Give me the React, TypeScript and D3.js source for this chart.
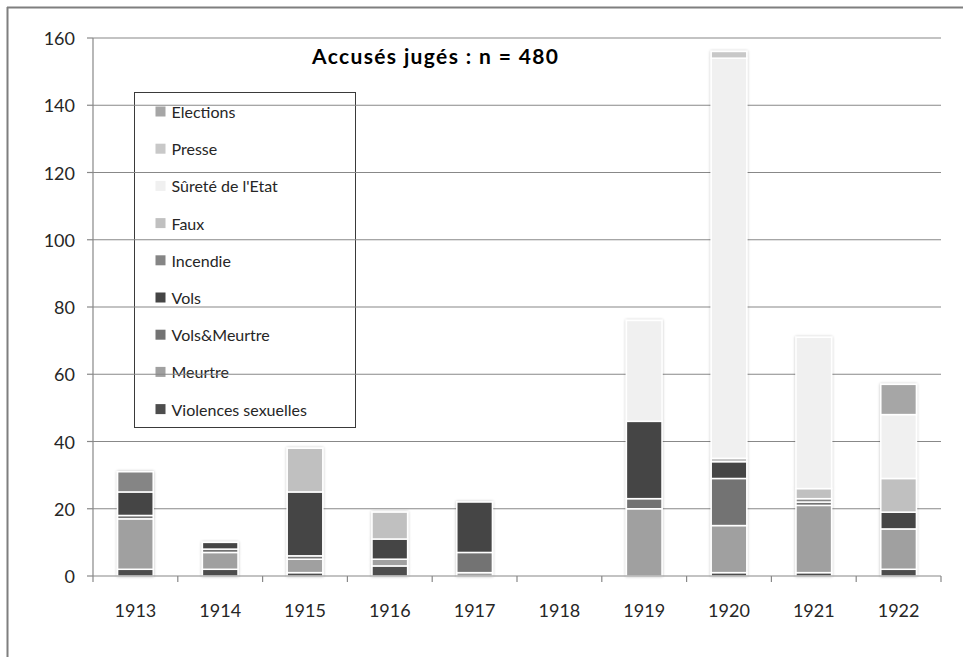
import * as d3 from 'd3';

// categories and series (bottom to top of each stack)
const years = ['1913', '1914', '1915', '1916', '1917', '1918', '1919', '1920', '1921', '1922'];

const violencesSexuelles = [2, 2, 1, 3, 0, 0, 0, 1, 1, 2];
const meurtre = [15, 5, 4, 2, 1, 0, 20, 14, 20, 12];
const volsMeurtre = [1, 1, 1, 0, 6, 0, 3, 14, 1, 0];
const vols = [7, 2, 19, 6, 15, 0, 23, 5, 0, 5];
const incendie = [6, 0, 0, 0, 0, 0, 0, 0, 1, 0];
const faux = [0, 0, 13, 8, 0, 0, 0, 1, 3, 10];
const sureteEtat = [0, 0, 0, 0, 0, 0, 30, 119, 45, 19];
const presse = [0, 0, 0, 0, 0, 0, 0, 2, 0, 0];
const elections = [0, 0, 0, 0, 0, 0, 0, 0, 0, 9];

const seriesNames = [
  'Violences sexuelles', 'Meurtre', 'Vols&Meurtre', 'Vols', 'Incendie',
  'Faux', "Sûreté de l'Etat", 'Presse', 'Elections',
];
const seriesValues = [
  violencesSexuelles, meurtre, volsMeurtre, vols, incendie,
  faux, sureteEtat, presse, elections,
];
const seriesColors = [
  '#4d4d4d', '#a0a0a0', '#737373', '#454545', '#858585',
  '#c0c0c0', '#f0f0f0', '#c8c8c8', '#a6a6a6',
];
const yTicks = [0, 20, 40, 60, 80, 100, 120, 140, 160];
const title = 'Accusés jugés : n = 480';

const W = 963;
const H = 657;
const margin = { top: 38, right: 22, bottom: 81, left: 93 };
const font = 'Lato, "Open Sans", sans-serif';

export default function App() {
  const innerW = W - margin.left - margin.right;
  const innerH = H - margin.top - margin.bottom;

  const x = d3.scaleBand().domain(years).range([0, innerW]).paddingInner(0.58).paddingOuter(0.29);
  const y = d3.scaleLinear().domain([0, 160]).range([innerH, 0]);

  const rows = years.map((yr, i) => {
    const r: Record<string, any> = { year: yr };
    seriesNames.forEach((n, k) => { r[n] = seriesValues[k][i]; });
    return r;
  });
  const stacked = d3.stack().keys(seriesNames)(rows as any);
  const totals = years.map((_, i) => d3.sum(seriesValues, (s) => s[i]));
  const boundaries = d3.range(years.length + 1).map((i) => i * x.step());

  const legendOrder = [...seriesNames].reverse();

  return (
    <svg width={W} height={H} style={{ position: 'absolute', left: 0, top: 0, background: '#fff' }}>
      <defs>
        <filter id="shadow" x="-30%" y="-10%" width="160%" height="120%">
          <feGaussianBlur in="SourceAlpha" stdDeviation="1.6" />
          <feComponentTransfer><feFuncA type="linear" slope="0.25" /></feComponentTransfer>
          <feMerge><feMergeNode /><feMergeNode in="SourceGraphic" /></feMerge>
        </filter>
      </defs>

      {/* frame */}
      <line x1={7.5} x2={7.5} y1={7} y2={H} stroke="#7f7f7f" strokeWidth={2} />
      <line x1={7} x2={W} y1={7.5} y2={7.5} stroke="#7f7f7f" strokeWidth={2} />

      <g transform={`translate(${margin.left},${margin.top})`}>
        {/* legend */}
        <g transform={`translate(${134.5 - margin.left},${92.5 - margin.top})`}>
          <rect width={221} height={335} fill="none" stroke="#3a3a3a" strokeWidth={1} />
          {legendOrder.map((name, i) => {
            const k = seriesNames.indexOf(name);
            return (
              <g key={name} transform={`translate(0,${19 + i * 37.2})`}>
                <rect x={21} y={-5} width={10} height={10} fill={seriesColors[k]} />
                <text x={37} y={0} dominantBaseline="central" fontSize={16} fontFamily={font} fill="#262626">
                  {name}
                </text>
              </g>
            );
          })}
        </g>

        {/* grid */}
        {yTicks.filter((t) => t > 0).map((t) => (
          <line key={t} x1={0} x2={innerW} y1={y(t)} y2={y(t)} stroke="#888" strokeWidth={1.2} />
        ))}

        {/* bars */}
        {years.map((yr, i) => (
          totals[i] > 0 ? (
            <g key={yr} filter="url(#shadow)">
              {stacked.map((s, k) => {
                const d = s[i];
                if (d[1] - d[0] <= 0) return null;
                return (
                  <rect
                    key={k}
                    x={x(yr)}
                    y={y(d[1])}
                    width={x.bandwidth()}
                    height={y(d[0]) - y(d[1])}
                    fill={seriesColors[k]}
                    stroke="#fff"
                    strokeWidth={1.5}
                  />
                );
              })}
            </g>
          ) : null
        ))}

        {/* y axis */}
        <line x1={0} x2={0} y1={0} y2={innerH} stroke="#888" strokeWidth={1.2} />
        {yTicks.map((t) => (
          <g key={t} transform={`translate(0,${y(t)})`}>
            <line x1={-6} x2={0} stroke="#888" strokeWidth={1.2} />
            <text x={-18} textAnchor="end" dominantBaseline="central" fontSize={18} fontFamily={font} fill="#262626">
              {t}
            </text>
          </g>
        ))}

        {/* x axis */}
        <g transform={`translate(0,${innerH})`}>
          <line x1={0} x2={innerW} stroke="#888" strokeWidth={1.2} />
          {boundaries.map((b, i) => (
            <line key={i} x1={b} x2={b} y1={0} y2={6} stroke="#888" strokeWidth={1.2} />
          ))}
          {years.map((yr) => (
            <text key={yr} x={(x(yr) ?? 0) + x.bandwidth() / 2} y={34} textAnchor="middle" dominantBaseline="central" fontSize={18} fontFamily={font} fill="#262626">
              {yr}
            </text>
          ))}
        </g>

        {/* title */}
        <text x={312 - margin.left} y={55 - margin.top} textLength={246} lengthAdjust="spacing" dominantBaseline="central" fontSize={21} fontWeight="bold" fontFamily={font} fill="#000">
          {title}
        </text>
      </g>
    </svg>
  );
}
